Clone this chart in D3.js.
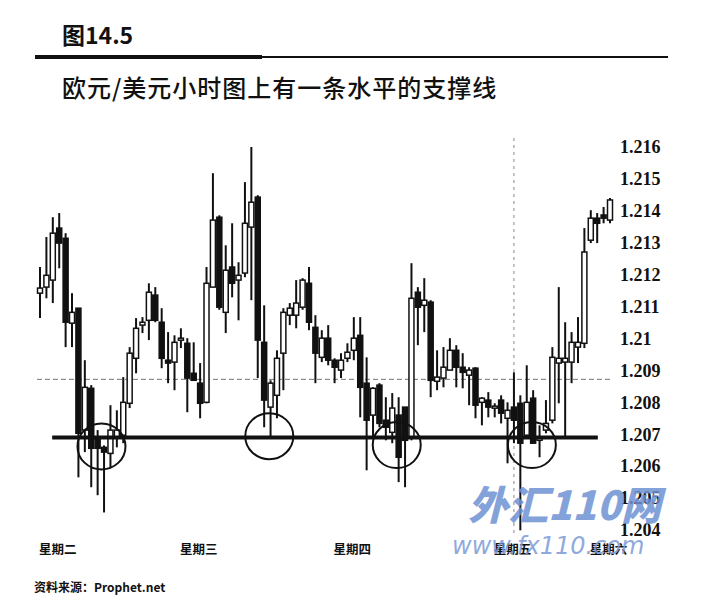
<!DOCTYPE html>
<html><head><meta charset="utf-8">
<script src="https://cdn.jsdelivr.net/npm/d3@7"></script>
<style>body{margin:0;background:#fff}</style>
</head><body>
<svg id="c" width="711" height="600"></svg>
<script>
const opens = [1.21142,1.21161,1.21183,1.21346,1.21314,1.21048,1.21095,1.20713,1.20844,1.20687,
1.20659,1.20640,1.20691,1.20697,1.20797,1.20938,1.21042,1.21057,1.21136,1.21051,
1.20932,1.20926,1.20995,1.20985,1.20891,1.20860,1.20800,1.21161,1.21380,1.21082,
1.21224,1.21183,1.21205,1.21349,1.21443,1.20988,1.20785,1.20822,1.20954,1.21073,
1.21073,1.21098,1.21173,1.21035,1.20941,1.21001,1.20932,1.20901,1.20938,1.20963,
1.21010,1.20860,1.20760,1.20854,1.20744,1.20706,1.20760,1.20785,1.20691,1.21145,
1.21104,1.21114,1.20866,1.20876,1.20901,1.20963,1.20910,1.20885,1.20907,1.20800,
1.20807,1.20785,1.20807,1.20750,1.20785,1.20797,1.20697,1.20813,1.20681,1.20713,
1.20744,1.20923,1.20926,1.20926,1.20973,1.20985,1.21308,1.21377,1.21387,1.21371];
const highs = [1.21224,1.21318,1.21380,1.21393,1.21330,1.21142,1.21095,1.20932,1.20854,1.20713,
1.20665,1.20791,1.20775,1.20879,1.20973,1.21064,1.21067,1.21173,1.21161,1.21095,
1.21020,1.21010,1.21032,1.21001,1.20988,1.20923,1.21224,1.21518,1.21386,1.21292,
1.21361,1.21239,1.21490,1.21600,1.21449,1.21104,1.20869,1.20963,1.21095,1.21111,
1.21183,1.21189,1.21224,1.21073,1.21026,1.21042,1.20938,1.20954,1.20985,1.21067,
1.21067,1.20941,1.20847,1.20860,1.20816,1.20829,1.20816,1.20785,1.21236,1.21161,
1.21189,1.21120,1.20963,1.20973,1.21001,1.20979,1.20954,1.20910,1.20910,1.20816,
1.20832,1.20797,1.20822,1.20800,1.20894,1.20822,1.20916,1.20838,1.20728,1.20807,
1.20973,1.21161,1.21051,1.21020,1.21067,1.21346,1.21402,1.21393,1.21412,1.21440];
const lows = [1.21064,1.21126,1.21111,1.21220,1.20973,1.20973,1.20565,1.20644,1.20534,1.20509,
1.20455,1.20597,1.20659,1.20672,1.20782,1.20891,1.21017,1.20995,1.21051,1.20907,
1.20860,1.20838,1.20970,1.20769,1.20869,1.20750,1.20797,1.21161,1.21090,1.21017,
1.21129,1.21057,1.21192,1.21120,1.20876,1.20722,1.20691,1.20750,1.20838,1.21042,
1.21032,1.21090,1.21026,1.20860,1.20926,1.20916,1.20860,1.20876,1.20926,1.20932,
1.20753,1.20587,1.20687,1.20722,1.20681,1.20672,1.20550,1.20534,1.20681,1.20979,
1.21020,1.20816,1.20838,1.20847,1.20901,1.20847,1.20844,1.20791,1.20750,1.20728,
1.20753,1.20753,1.20734,1.20609,1.20672,1.20399,1.20691,1.20672,1.20628,1.20703,
1.20734,1.20797,1.20691,1.20860,1.20923,1.20970,1.21299,1.21299,1.21361,1.21361];
const closes = [1.21158,1.21198,1.21330,1.21299,1.21051,1.21082,1.20703,1.20847,1.20656,1.20656,
1.20644,1.20713,1.20713,1.20800,1.20954,1.21032,1.21051,1.21145,1.21057,1.20938,
1.20923,1.20988,1.21001,1.20876,1.20869,1.20797,1.21173,1.21371,1.21098,1.21214,
1.21173,1.21198,1.21361,1.21427,1.20995,1.20807,1.20860,1.20938,1.21082,1.21095,
1.21111,1.21183,1.21051,1.20954,1.21001,1.20932,1.20910,1.20932,1.20957,1.21001,
1.20847,1.20744,1.20844,1.20734,1.20722,1.20782,1.20628,1.20681,1.21126,1.21098,
1.21120,1.20869,1.20879,1.20910,1.20963,1.20910,1.20894,1.20901,1.20791,1.20813,
1.20785,1.20788,1.20766,1.20775,1.20744,1.20672,1.20800,1.20672,1.20691,1.20734,
1.20941,1.20938,1.20938,1.20988,1.20988,1.21271,1.21377,1.21361,1.21377,1.21434];

const yTicks = [1.204,1.205,1.206,1.207,1.208,1.209,1.21,1.211,1.212,1.213,1.214,1.215,1.216];
const dayLabels = ["星期二","星期三","星期四","星期五","星期六"];
const dayStartIdx = [0, 22, 46, 71, 86];
const supportLevel = 1.2069, supportFrom = 1.9, supportTo = 87.1;
const refLevel = 1.20872;
const dayBreakIdx = 74;
const circleIdx = [9.6, 35.8, 55.7, 76.8];
const circlePrice = [1.20662, 1.20694, 1.20666, 1.20666];

const svg = d3.select("#c");
const N = opens.length;
const x = d3.scaleLinear().domain([0, N-1]).range([40, 610]);
const y = d3.scaleLinear().domain([1.204, 1.216]).range([530, 147]);

// title
svg.append("text").attr("x",62).attr("y",44)
  .attr("font-family","'Noto Sans CJK SC', sans-serif").attr("font-weight",700)
  .attr("font-size",23).attr("fill","#111").text("图14.5");
svg.append("line").attr("x1",35).attr("x2",262).attr("y1",57).attr("y2",57)
  .attr("stroke","#111").attr("stroke-width",4);
svg.append("line").attr("x1",262).attr("x2",668).attr("y1",57).attr("y2",57)
  .attr("stroke","#111").attr("stroke-width",2.2);
svg.append("text").attr("x",62).attr("y",97)
  .attr("font-family","'Noto Sans CJK SC', sans-serif").attr("font-weight",500)
  .attr("font-size",24).attr("letter-spacing",1).attr("fill","#111")
  .text("欧元/美元小时图上有一条水平的支撑线");

// reference dotted line
svg.append("line").attr("x1",37).attr("x2",613).attr("y1",y(refLevel)).attr("y2",y(refLevel))
  .attr("stroke","#777").attr("stroke-width",1).attr("stroke-dasharray","5,3");
// day break vertical dashed line
svg.append("line").attr("x1",x(dayBreakIdx)).attr("x2",x(dayBreakIdx)).attr("y1",138).attr("y2",535)
  .attr("stroke","#888").attr("stroke-width",1).attr("stroke-dasharray","3,4");

// candles
const data = d3.range(N).map(i => ({i, o:opens[i], h:highs[i], l:lows[i], c:closes[i]}));
const g = svg.append("g");
g.selectAll("line.wick").data(data).join("line").attr("class","wick")
  .attr("x1",d=>x(d.i)).attr("x2",d=>x(d.i)).attr("y1",d=>y(d.h)).attr("y2",d=>y(d.l))
  .attr("stroke","#111").attr("stroke-width",2);
const bw = 5;
g.selectAll("rect.body").data(data).join("rect").attr("class","body")
  .attr("x",d=>x(d.i)-bw/2)
  .attr("y",d=>y(Math.max(d.o,d.c)))
  .attr("width",bw)
  .attr("height",d=>Math.max(2, Math.abs(y(d.o)-y(d.c))))
  .attr("fill",d=>d.c>=d.o?"#fff":"#111")
  .attr("stroke","#111").attr("stroke-width",1.5);

// support line
svg.append("line").attr("x1",x(supportFrom)).attr("x2",x(supportTo))
  .attr("y1",y(supportLevel)).attr("y2",y(supportLevel))
  .attr("stroke","#111").attr("stroke-width",4);

// circles
svg.selectAll("ellipse.hl").data(circleIdx).join("ellipse").attr("class","hl")
  .attr("cx",(d)=>x(d)).attr("cy",(d,i)=>y(circlePrice[i]))
  .attr("rx",24).attr("ry",23)
  .attr("fill","none").attr("stroke","#111").attr("stroke-width",2);

// y labels
const fmt = d3.format(".3~f");
svg.selectAll("text.yl").data(yTicks).join("text").attr("class","yl")
  .attr("x",620).attr("y",d=>y(d)).attr("dy","0.35em")
  .attr("font-family","'Liberation Serif', serif").attr("font-weight",700)
  .attr("font-size",18).attr("fill","#111").text(d=>fmt(d));

// day labels
svg.selectAll("text.day").data(dayLabels).join("text").attr("class","day")
  .attr("x",(d,i)=>x(dayStartIdx[i])-1).attr("y",554)
  .attr("font-family","'Noto Sans CJK SC', sans-serif").attr("font-weight",700)
  .attr("font-size",12.5).attr("fill","#111").text(d=>d);

// source
svg.append("text").attr("x",34).attr("y",592)
  .attr("font-family","'Noto Sans CJK SC', sans-serif").attr("font-weight",700)
  .attr("font-size",12).attr("fill","#111")
  .text("资料来源：Prophet.net");

// watermark
svg.append("text").attr("x",468).attr("y",520)
  .attr("font-family","'Noto Sans CJK SC', sans-serif").attr("font-weight",900)
  .attr("font-style","italic").attr("font-size",40).attr("fill","#6f92d4").attr("opacity",0.85)
  .text("外汇110网");
svg.append("text").attr("x",452).attr("y",554)
  .attr("font-family","'DejaVu Sans', sans-serif").attr("font-style","italic")
  .attr("font-size",24).attr("fill","#7d9bd8").attr("opacity",0.85)
  .text("www.fx110.com");
</script>
</body></html>
